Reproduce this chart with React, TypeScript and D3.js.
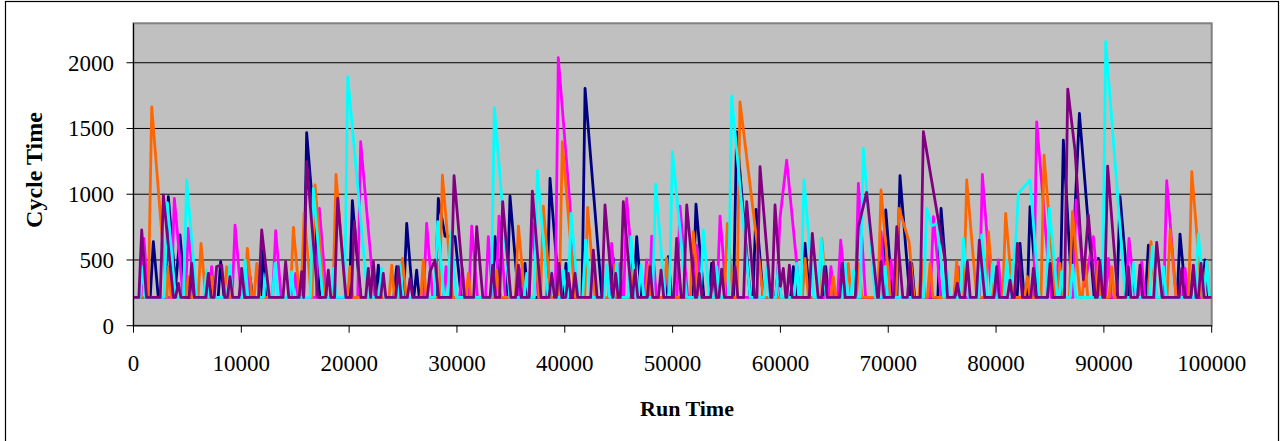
import * as d3 from "d3";

const W = 1280;
const H = 441;
// plot area edges
const PLOT = { left: 133.5, right: 1211.7, top: 23.3, bottom: 325.7 };

const X_TICKS = [0, 10000, 20000, 30000, 40000, 50000, 60000, 70000, 80000, 90000, 100000];
const Y_TICKS = [0, 500, 1000, 1500, 2000];
const Y_MAX = 2300;

type Pt = [number, number];

// run time, cycle time
const navy: Pt[] = [
  [0, 215], [1550, 215], [1840, 639], [2300, 215], [2950, 215], [3230, 981], [3900, 300], [4313, 690], [4800, 215],
  [5300, 215], [5550, 373], [5800, 215], [6700, 215], [6940, 398], [7200, 215], [7850, 215], [8085, 487], [8400, 215],
  [10550, 215], [10805, 373], [11050, 215], [11800, 215], [12040, 575], [12400, 215], [15780, 215], [16060, 1468],
  [17300, 215], [20020, 215], [20300, 951], [21050, 215], [22450, 215], [22710, 461], [22950, 215], [24150, 215],
  [24410, 449], [24650, 215], [25060, 215], [25340, 778], [25900, 215], [26000, 215], [26260, 423], [26500, 215],
  [28000, 215], [28270, 968], [28900, 680], [29820, 677], [30400, 215], [33250, 215], [33530, 677], [34000, 215],
  [34650, 215], [34920, 986], [35700, 215], [36050, 215], [36310, 474], [36570, 215], [38350, 215], [38630, 1120],
  [39500, 215], [39850, 215], [40115, 474], [40400, 215], [41600, 215], [41880, 1805], [43450, 215], [44250, 215],
  [44500, 512], [44800, 215], [46400, 215], [46670, 677], [47100, 215], [47500, 215], [47750, 449], [48000, 215],
  [49350, 215], [49600, 525], [49900, 215], [51900, 215], [52170, 925], [52900, 215], [53400, 215], [53620, 474],
  [53900, 215], [55650, 215], [55940, 1475], [57200, 215], [57450, 215], [57740, 885], [58400, 215], [59550, 215],
  [59810, 449], [60050, 215], [60950, 215], [61200, 449], [61450, 215], [62000, 215], [62280, 626], [62700, 215],
  [63950, 215], [64200, 449], [64450, 215], [65430, 215], [65680, 474], [65950, 215], [69500, 215], [69770, 880],
  [70400, 215], [70800, 215], [71090, 1141], [72000, 215], [72180, 474], [72450, 215], [74600, 215], [74900, 892],
  [75550, 215], [76100, 215], [76350, 373], [76600, 215], [81950, 215], [82220, 626], [82600, 215], [82900, 215],
  [83150, 905], [83800, 215], [84750, 215], [85000, 474], [85250, 215], [85950, 215], [86240, 1412], [87000, 300],
  [87730, 1615], [89100, 215], [89250, 215], [89490, 512], [89800, 215], [91200, 215], [91500, 981], [92300, 215],
  [93850, 215], [94130, 613], [94590, 474], [94850, 215], [96800, 215], [97060, 697], [97600, 215], [98050, 215],
  [98300, 423], [98550, 215], [99100, 215], [99380, 500], [99700, 215], [100000, 215],
];

const magenta: Pt[] = [
  [0, 215], [700, 215], [970, 664], [1350, 215], [3500, 215], [3790, 968], [4600, 215], [4800, 215], [5090, 740],
  [5650, 215], [7000, 215], [7250, 449], [7500, 215], [9150, 215], [9420, 765], [10000, 215], [10250, 215],
  [10500, 449], [10750, 215], [12900, 215], [13190, 722], [13700, 215], [14800, 215], [15040, 398], [15250, 215],
  [16950, 215], [17240, 892], [17900, 215], [20800, 215], [21070, 1399], [22030, 500], [22400, 215], [26900, 215],
  [27190, 778], [27750, 215], [28750, 215], [28990, 449], [29250, 215], [30250, 215], [30500, 436], [30750, 215],
  [31100, 215], [31370, 758], [31900, 215], [32650, 215], [32910, 677], [33300, 215], [33620, 215], [33900, 834],
  [34500, 215], [35750, 215], [36000, 436], [36250, 215], [36700, 215], [36990, 778], [37550, 215], [39120, 215],
  [39400, 2038], [40500, 900], [41000, 215], [44080, 215], [44350, 626], [44800, 215], [44900, 215], [45120, 474],
  [45350, 215], [45470, 215], [45740, 968], [46500, 215], [47350, 215], [47600, 500], [47850, 215], [48060, 682],
  [48500, 215], [49200, 215], [49450, 436], [49700, 215], [50400, 215], [50690, 910], [51400, 215], [52000, 215],
  [52230, 613], [52700, 215], [54120, 215], [54400, 834], [55000, 215], [59650, 215], [59960, 816], [60580, 1260],
  [61510, 474], [61800, 215], [64450, 215], [64690, 449], [64950, 215], [65300, 215], [65590, 651], [66100, 215],
  [66950, 215], [67230, 1082], [67900, 215], [69050, 215], [69330, 715], [69800, 215], [70000, 215], [70260, 500],
  [70550, 215], [73900, 215], [74190, 829], [74900, 215], [76250, 215], [76500, 449], [76750, 215], [78450, 215],
  [78730, 1151], [79600, 215], [79950, 215], [80210, 500], [80500, 215], [83500, 215], [83770, 1551], [85100, 215],
  [85550, 215], [85780, 512], [86050, 215], [87150, 215], [87420, 956], [88200, 300], [89030, 677], [89500, 215],
  [90150, 215], [90420, 512], [90700, 215], [92050, 215], [92330, 664], [92900, 215], [93250, 215], [93510, 487],
  [93800, 215], [95550, 215], [95830, 1103], [96700, 215], [97280, 215], [97530, 436], [97800, 215], [100000, 215],
];

const orange: Pt[] = [
  [0, 215], [1380, 215], [1690, 1665], [3100, 215], [3230, 449], [3500, 215], [4850, 215], [5090, 373], [5350, 215],
  [6000, 215], [6260, 626], [6700, 215], [7000, 215], [7250, 373], [7500, 215], [8400, 215], [8640, 449], [8900, 215],
  [10300, 215], [10560, 588], [11000, 215], [11200, 215], [11430, 474], [11700, 215], [14550, 215], [14830, 748],
  [15400, 215], [15550, 215], [15820, 854], [16500, 215], [16560, 215], [16840, 1070], [17700, 215], [18500, 215],
  [18780, 1151], [19700, 215], [19850, 215], [20080, 449], [20350, 215], [23700, 215], [23950, 461], [24200, 215],
  [24700, 215], [24940, 512], [25300, 215], [26650, 215], [26880, 500], [27150, 215], [28370, 215], [28650, 1146],
  [29600, 215], [30820, 215], [31060, 398], [31300, 215], [33450, 215], [33690, 423], [33950, 215], [35420, 215],
  [35700, 758], [36300, 215], [37150, 215], [37400, 500], [37650, 215], [37750, 215], [38010, 910], [38700, 215],
  [39500, 215], [39770, 1399], [40950, 215], [41850, 215], [42120, 900], [42800, 215], [44420, 215], [44660, 461],
  [44900, 215], [46120, 215], [46360, 461], [46600, 215], [47500, 215], [47750, 461], [48000, 215], [49200, 215],
  [49450, 512], [49750, 215], [51650, 215], [51920, 715], [52450, 215], [54800, 215], [55080, 778], [55600, 215],
  [55980, 215], [56250, 1703], [58100, 449], [58400, 215], [62030, 215], [62280, 512], [62600, 215], [63550, 215],
  [63830, 664], [64300, 215], [64670, 215], [64910, 373], [65150, 215], [66050, 215], [66300, 474], [66550, 215],
  [67050, 215], [67290, 474], [67550, 215], [69050, 215], [69330, 1032], [70200, 215], [70730, 215], [71000, 892],
  [71930, 639], [72400, 215], [72850, 215], [73100, 500], [73400, 215], [73630, 215], [73880, 474], [74150, 215],
  [76100, 215], [76350, 487], [76600, 215], [77000, 215], [77280, 1108], [78200, 215], [79010, 215], [79290, 715],
  [79800, 215], [80620, 215], [80890, 854], [81550, 215], [82650, 215], [82900, 373], [83150, 215], [84170, 215],
  [84450, 1298], [85500, 215], [85700, 215], [85930, 474], [86200, 215], [86800, 215], [87080, 867], [87800, 215],
  [88000, 215], [88250, 500], [88500, 215], [89240, 215], [89490, 487], [89750, 215], [90480, 215], [90730, 449],
  [90980, 215], [94100, 215], [94370, 639], [94800, 215], [95860, 215], [96140, 728], [96700, 215], [97870, 215],
  [98150, 1171], [99100, 215], [99290, 215], [99540, 487], [99800, 215], [100000, 215],
];

const cyan: Pt[] = [
  [0, 215], [600, 215], [850, 449], [1100, 215], [2850, 215], [3140, 935], [3900, 215], [4640, 215], [4930, 1108],
  [5850, 215], [6550, 215], [6790, 423], [7050, 215], [8700, 215], [8950, 461], [9200, 215], [10100, 215],
  [10340, 500], [10600, 215], [12050, 215], [12290, 398], [12550, 215], [12880, 215], [13130, 474], [13400, 215],
  [14430, 215], [14670, 411], [14900, 215], [16400, 215], [16680, 1044], [17550, 215], [18300, 215], [18540, 436],
  [18800, 215], [19580, 215], [19870, 1894], [21470, 449], [21700, 215], [22780, 215], [23020, 436], [23280, 215],
  [24480, 215], [24720, 461], [25000, 215], [27930, 215], [28210, 791], [28800, 215], [29150, 215], [29420, 715],
  [29950, 215], [33180, 215], [33470, 1660], [34900, 215], [36230, 215], [36470, 398], [36700, 215], [37170, 215],
  [37460, 1184], [38450, 215], [38550, 215], [38790, 411], [39050, 215], [39620, 215], [39870, 423], [40120, 215],
  [40300, 215], [40580, 854], [41250, 215], [41660, 215], [41940, 651], [42400, 215], [43650, 215], [43890, 461],
  [44150, 215], [44570, 215], [44820, 474], [45080, 215], [45870, 215], [46140, 677], [46600, 215], [46830, 215],
  [47070, 461], [47330, 215], [48150, 215], [48430, 1077], [49300, 215], [49700, 215], [49980, 1323], [51300, 215],
  [52570, 215], [52850, 728], [53400, 215], [53850, 215], [54090, 449], [54350, 215], [55190, 215], [55480, 1747],
  [57200, 215], [58480, 215], [58730, 449], [58980, 215], [59570, 215], [59810, 461], [60070, 215], [61270, 215],
  [61510, 474], [61770, 215], [61900, 215], [62190, 1108], [63100, 215], [63500, 215], [63770, 664], [64250, 215],
  [65750, 215], [65990, 474], [66250, 215], [66530, 215], [66770, 423], [67020, 215], [67400, 215], [67690, 1349],
  [68800, 215], [69460, 215], [69700, 449], [69950, 215], [73280, 215], [73570, 892], [74030, 760], [74590, 778],
  [75150, 215], [75180, 215], [75420, 436], [75700, 215], [76700, 215], [76970, 664], [77450, 215], [78400, 215],
  [78670, 690], [79200, 215], [79450, 215], [79690, 474], [79950, 215], [80750, 215], [80990, 500], [81250, 215],
  [81800, 601], [82070, 1006], [83150, 1108], [84000, 215], [84670, 215], [84950, 892], [85700, 215], [85850, 215],
  [86090, 411], [86350, 215], [86870, 215], [87110, 461], [87400, 215], [89880, 215], [90170, 2160], [92000, 215],
  [92500, 215], [92740, 474], [93000, 215], [94230, 215], [94500, 601], [94900, 215], [95280, 215], [95520, 449],
  [95780, 215], [98480, 215], [98760, 697], [99300, 215], [99540, 487], [99800, 215], [100000, 215],
];

const purple: Pt[] = [
  [0, 215], [500, 215], [760, 728], [1200, 215], [2480, 215], [2770, 994], [3700, 215], [3900, 215], [4160, 322],
  [4400, 215], [5150, 215], [5400, 474], [5650, 215], [6700, 215], [6940, 398], [7200, 215], [7480, 215], [7710, 450],
  [8180, 460], [8450, 215], [8710, 215], [8950, 373], [9200, 215], [9790, 215], [10030, 436], [10300, 215],
  [11600, 215], [11890, 728], [12600, 215], [13870, 215], [14110, 487], [14400, 215], [15360, 215], [15600, 411],
  [15780, 215], [16060, 1247], [17100, 215], [17830, 215], [18070, 423], [18300, 215], [18650, 215], [18940, 968],
  [19700, 215], [20200, 215], [20480, 791], [21100, 215], [21540, 215], [21780, 436], [22000, 215], [22246, 487],
  [22500, 215], [22930, 215], [23170, 398], [23400, 215], [24320, 215], [24560, 449], [24820, 215], [25400, 215],
  [25650, 360], [25900, 215], [27250, 215], [27500, 411], [27965, 500], [28300, 215], [29440, 215], [29730, 1141],
  [30700, 215], [31550, 215], [31830, 753], [32400, 215], [33070, 215], [33310, 461], [33570, 215], [33960, 215],
  [34240, 943], [35000, 215], [35450, 215], [35700, 461], [35950, 215], [36700, 215], [36990, 1024], [37800, 215],
  [38540, 215], [38790, 398], [39050, 215], [39220, 215], [39470, 474], [39720, 215], [40090, 215], [40330, 398],
  [40580, 215], [40710, 215], [40950, 398], [41200, 215], [42400, 215], [42650, 575], [43000, 215], [43450, 215],
  [43730, 918], [44450, 215], [44480, 215], [44720, 398], [44950, 215], [45150, 215], [45430, 943], [46200, 215],
  [46280, 215], [46520, 423], [46770, 215], [47660, 215], [47910, 449], [48160, 215], [48680, 215], [48930, 423],
  [49180, 215], [50100, 215], [50380, 664], [50800, 215], [51030, 215], [51310, 918], [52100, 215], [52240, 215],
  [52480, 398], [52720, 215], [53530, 215], [53780, 487], [54050, 215], [54300, 215], [54550, 431], [54800, 215],
  [55540, 215], [55790, 449], [56050, 215], [56590, 215], [56870, 943], [57600, 215], [57820, 215], [58110, 1209],
  [59100, 215], [59220, 215], [59500, 918], [60000, 300], [60270, 436], [60500, 215], [60600, 215], [60830, 461],
  [61100, 215], [62680, 215], [62960, 702], [63500, 215], [63830, 215], [64080, 449], [64330, 215], [65500, 215],
  [65750, 474], [66000, 215], [66950, 215], [67230, 753], [68000, 1014], [69000, 215], [69100, 215], [69330, 487],
  [69600, 215], [70500, 215], [70790, 753], [71350, 215], [71780, 215], [72020, 481], [72280, 215], [72970, 215],
  [73260, 1475], [75270, 500], [75500, 215], [76170, 215], [76410, 322], [76650, 215], [77090, 215], [77340, 487],
  [77600, 215], [78170, 215], [78450, 651], [78950, 215], [79810, 215], [80060, 449], [80300, 215], [81050, 215],
  [81300, 347], [81500, 215], [81700, 215], [81980, 626], [82450, 215], [83220, 215], [83460, 436], [83700, 215],
  [84760, 215], [85010, 474], [85270, 215], [86350, 215], [86650, 1800], [87320, 1336], [88100, 350], [88560, 842],
  [89200, 215], [89400, 215], [89640, 487], [89900, 215], [90070, 215], [90350, 1214], [91300, 215], [92030, 215],
  [92270, 449], [92500, 215], [93110, 215], [93350, 461], [93600, 215], [94620, 215], [94900, 634], [95400, 215],
  [96980, 215], [97220, 436], [97470, 215], [98060, 215], [98300, 461], [98550, 215], [98770, 215], [99010, 474],
  [99300, 215], [100000, 215],
];

// drawing order as in the original workbook (purple ends up on top)
const SERIES: { name: string; color: string; data: Pt[] }[] = [
  { name: "navy", color: "#000080", data: navy },
  { name: "magenta", color: "#FF00FF", data: magenta },
  { name: "orange", color: "#FF6600", data: orange },
  { name: "cyan", color: "#00FFFF", data: cyan },
  { name: "purple", color: "#800080", data: purple },
];

const FONT = "'Times New Roman', 'Liberation Serif', serif";

export default function App() {
  const x = d3.scaleLinear().domain([0, 100000]).range([PLOT.left, PLOT.right]);
  const y = d3.scaleLinear().domain([0, Y_MAX]).range([PLOT.bottom, PLOT.top]);

  const line = d3
    .line<Pt>()
    .x((d) => x(d[0]))
    .y((d) => y(d[1]));

  return (
    <div style={{ position: "absolute", left: 0, top: 0 }}>
      <svg width={W} height={H} style={{ display: "block" }} fontFamily={FONT}>
        <rect x={0} y={0} width={W} height={H} fill="#fff" />
        {/* outer chart frame */}
        <rect x={5.5} y={1.5} width={1273} height={460} fill="#fff" stroke="#000" strokeWidth={1.2} />

        {/* plot area */}
        <rect
          x={PLOT.left}
          y={PLOT.top}
          width={PLOT.right - PLOT.left}
          height={PLOT.bottom - PLOT.top}
          fill="#C0C0C0"
          stroke="#808080"
          strokeWidth={2}
        />

        {/* gridlines */}
        {Y_TICKS.filter((t) => t > 0).map((t) => (
          <line key={t} x1={PLOT.left} x2={PLOT.right} y1={y(t)} y2={y(t)} stroke="#000" strokeWidth={1} />
        ))}

        {/* series */}
        <defs>
          <clipPath id="plotclip">
            <rect x={PLOT.left} y={PLOT.top - 2} width={PLOT.right - PLOT.left + 2} height={PLOT.bottom - PLOT.top + 2} />
          </clipPath>
        </defs>
        <g clipPath="url(#plotclip)">
          {SERIES.map((s) => (
            <path
              key={s.name}
              d={line(s.data) ?? ""}
              fill="none"
              stroke={s.color}
              strokeWidth={2.8}
              strokeLinejoin="round"
            />
          ))}
        </g>

        {/* axes */}
        <line x1={PLOT.left} x2={PLOT.left} y1={PLOT.top} y2={PLOT.bottom} stroke="#000" strokeWidth={1} />
        <line x1={PLOT.left} x2={PLOT.right} y1={PLOT.bottom} y2={PLOT.bottom} stroke="#000" strokeWidth={1} />

        {Y_TICKS.map((t) => (
          <g key={t}>
            <line x1={PLOT.left - 7} x2={PLOT.left} y1={y(t)} y2={y(t)} stroke="#000" strokeWidth={1} />
            <text x={114} y={y(t) + 8} textAnchor="end" fontSize={23} fill="#000">
              {t}
            </text>
          </g>
        ))}

        {X_TICKS.map((t) => (
          <g key={t}>
            <line x1={x(t)} x2={x(t)} y1={PLOT.bottom} y2={PLOT.bottom + 7} stroke="#000" strokeWidth={1} />
            <text x={x(t)} y={371} textAnchor="middle" fontSize={23} fill="#000">
              {t}
            </text>
          </g>
        ))}

        {/* axis titles */}
        <text x={687} y={416} textAnchor="middle" fontSize={22} fontWeight="bold" fill="#000">
          Run Time
        </text>
        <text
          transform="translate(42,170) rotate(-90)"
          textAnchor="middle"
          fontSize={24}
          fontWeight="bold"
          fill="#000"
        >
          Cycle Time
        </text>
      </svg>
    </div>
  );
}
